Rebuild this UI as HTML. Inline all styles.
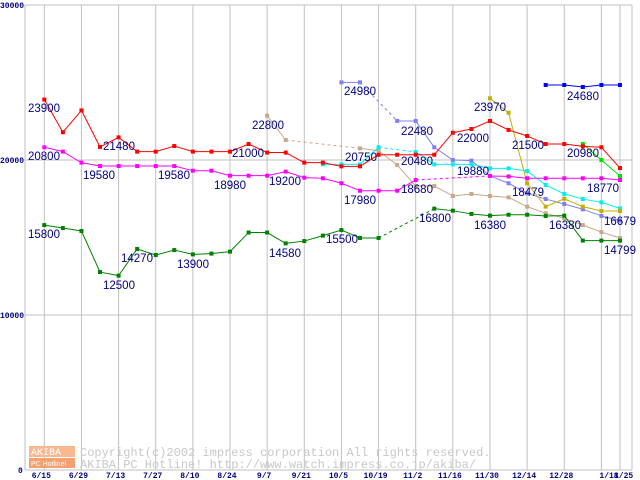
<!DOCTYPE html>
<html><head><meta charset="utf-8">
<style>
html,body{margin:0;padding:0;background:#fff;}
svg{display:block;}
.lbl{font-family:"Liberation Sans",sans-serif;font-size:11.5px;fill:#000080;}
.tick{font-family:"Liberation Mono",monospace;font-size:8px;font-weight:bold;fill:#000080;}
.wm{font-family:"Liberation Mono",monospace;font-size:12px;fill:#c8c8c8;}
</style></head>
<body>
<svg id="chart" width="640" height="480" viewBox="0 0 640 480">
<g id="grid"></g>
<g id="wm">
<rect x="29" y="446" width="46" height="11" fill="#f8b890"/>
<rect x="29" y="458" width="46" height="10" fill="#f4a070"/>
<text x="31" y="455" font-family="Liberation Mono,monospace" font-size="10" fill="#fff">AKIBA</text>
<text x="31" y="466" font-family="Liberation Sans,sans-serif" font-size="7" fill="#fff">PC Hotline!</text>
<text class="wm" x="80" y="456">Copyright(c)2002 impress corporation All rights reserved.</text>
<text class="wm" x="80" y="468">AKIBA PC Hotline!  http://www.watch.impress.co.jp/akiba/</text>
</g>
<g id="series"></g>
<g id="labels"></g>
</svg>
<script>
const xTicks=["6/15","6/29","7/13","7/27","8/10","8/24","9/7","9/21","10/5","10/19","11/2","11/16","11/30","12/14","12/28","1/18","1/25"];
const xTickIdx=[0,2,4,6,8,10,12,14,16,18,20,22,24,26,28,30,31];
const yTicks=[0,10000,20000,30000];
const N=null;
const red=[23900,21790,23200,20840,21460,20540,20540,20900,20540,20540,20540,21030,20480,20480,19830,19830,19590,19590,20340,20340,20340,20340,21760,22000,22520,21940,21550,21030,21030,20880,20820,19480];
const magenta=[20820,20540,19830,19610,19610,19610,19610,19610,19310,19310,18990,18990,18990,19250,18860,18820,18500,18020,18020,18020,18710,N,N,N,18970,18940,18820,18820,18820,18820,18820,18710];
const green=[15800,15610,15420,12770,12540,14260,13870,14190,13910,13960,14090,15320,15320,14620,14770,15120,15480,14970,14970,N,N,16860,16730,16520,16410,16470,16470,16390,16410,14800,14800,14800];
const tan=[N,N,N,N,N,N,N,N,N,N,N,N,22860,21290,N,N,N,20750,20600,19680,18320,18320,17680,17810,17680,17590,16990,16560,16240,15800,15350,14970];
const cyan=[N,N,N,N,N,N,N,N,N,N,N,N,N,N,N,19720,19720,19720,20820,N,20520,19720,19720,19720,19460,19460,19290,18390,17810,17480,17270,16880];
const peri=[N,N,N,N,N,N,N,N,N,N,N,N,N,N,N,N,25010,25010,N,22520,22520,20820,20000,19960,18970,18500,17850,17480,17160,16820,16390,16090];
const olive=[N,N,N,N,N,N,N,N,N,N,N,N,N,N,N,N,N,N,N,N,N,N,N,N,23980,23050,18500,16990,17500,16990,16710,16710];
const lime=[N,N,N,N,N,N,N,N,N,N,N,N,N,N,N,N,N,N,N,N,N,N,N,N,N,N,N,N,N,21030,20000,18970];
const blue=[N,N,N,N,N,N,N,N,N,N,N,N,N,N,N,N,N,N,N,N,N,N,N,N,N,N,N,24840,24840,24710,24840,24840];
const seriesList=[["tan",tan,"#c8a888"],["peri",peri,"#8080f0"],["cyan",cyan,"#00f0f0"],["olive",olive,"#c0b000"],["lime",lime,"#00e000"],["magenta",magenta,"#ff00ff"],["green",green,"#008000"],["red",red,"#ff0000"],["blue",blue,"#0000ff"]];
const labelText=["23900","21480","20800","19580","19580","18980","21000","22800","19200","15800","14270","12500","13900","14580","24980","22480","23970","24680","22000","21500","20750","20480","20980","19880","18680","17980","18479","18770","16800","16380","16380","16679","15500","14799"];
const labelX=[28,103,28,83,158,214,232,252,269,28,121,103,177,269,344,401,474,567,457,512,345,401,567,457,401,344,512,587,419,474,549,604,326,604];
const labelY=[108,146,156,175,175,185,153,125,181,234,258,285,264,253,91,131,107,96,138,145,157,161,153,171,189,200,192,188,218,225,225,221,239,250];

const NS="http://www.w3.org/2000/svg";
const X=i=>44.3+18.57*i;
const Y=v=>470-v*0.0155;
function mk(tag,attrs,parent){const e=document.createElementNS(NS,tag);for(const k in attrs)e.setAttribute(k,attrs[k]);parent.appendChild(e);return e;}
const grid=document.getElementById('grid');
// horizontal gridlines & y ticks
yTicks.forEach(v=>{
  const l=mk('line',{x1:25,x2:632,y1:Y(v),y2:Y(v),stroke:'#c0c0c0','stroke-width':1},grid);
  
  
  const t=mk('text',{x:v===0?18:0,y:Y(v)+3,class:'tick'},grid);
  t.textContent=String(v);
  
  
});
const ax=mk('line',{x1:25,x2:25,y1:5,y2:470,stroke:'#c0c0c0'},grid);


const ax2=mk('line',{x1:632,x2:632,y1:5,y2:470,stroke:'#c0c0c0'},grid);


xTicks.forEach((s,k)=>{
  const x=X(xTickIdx[k]);
  const l=mk('line',{x1:x,x2:x,y1:5,y2:470,stroke:'#c0c0c0'},grid);
  
  
  const t=mk('text',{x:k===15?x-2:(k===16?x-6:x-3),y:478,class:'tick','text-anchor':k>=15?'start':'middle','font-weight':'normal'},grid);
  t.textContent=s;
  
  
});
const sg=document.getElementById('series');
seriesList.forEach(([name,vals,col])=>{
  const g=mk('g',{},sg);
  
  
  let prev=-1;
  vals.forEach((v,i)=>{
    if(v===null)return;
    if(prev>=0){
      const gap=i-prev>1;
      const l=mk('line',{x1:X(prev),y1:Y(vals[prev]),x2:X(i),y2:Y(v),stroke:col,'stroke-width':1,'stroke-dasharray':gap?'3,3':'none'},g);
      
      
    }
    prev=i;
  });
  vals.forEach((v,i)=>{
    if(v===null)return;
    const r=mk('rect',{x:X(i)-2,y:Y(v)-2,width:4,height:4,fill:col},g);
    
    
  });
});
const lg=document.getElementById('labels');
labelText.forEach((s,k)=>{
  const t=mk('text',{x:labelX[k],y:labelY[k]+4,class:'lbl'},lg);
  t.textContent=s;
  
  
});
</script>
</body></html>
